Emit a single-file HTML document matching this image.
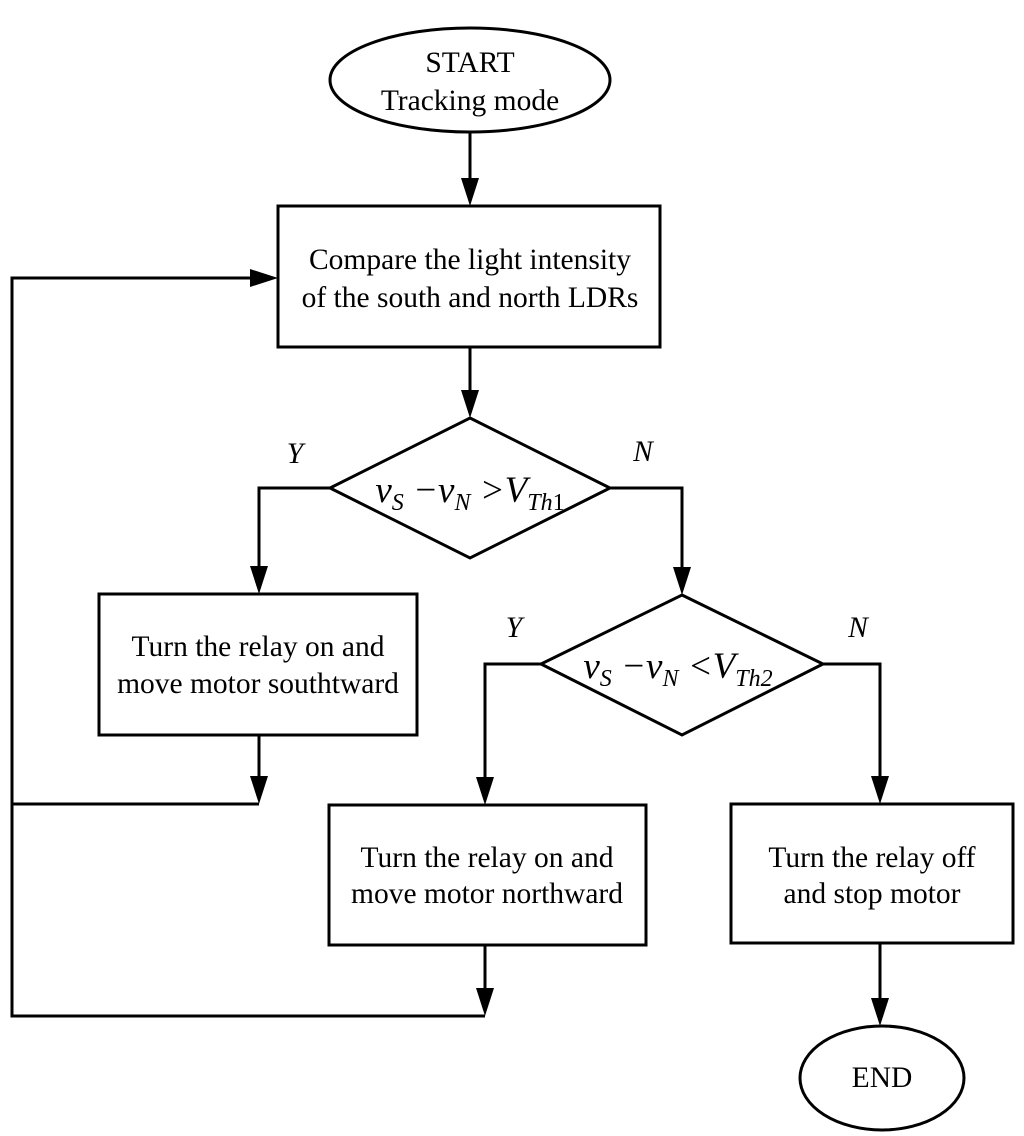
<!DOCTYPE html>
<html><head><meta charset="utf-8"><style>body{margin:0;background:#fff}svg{display:block}</style></head>
<body>
<svg width="1024" height="1136" viewBox="0 0 1024 1136" xmlns="http://www.w3.org/2000/svg" font-family="Liberation Serif, serif" font-size="29.5" fill="none" stroke="#000" stroke-width="3">
<ellipse cx="470" cy="80" rx="140" ry="52"/>
<rect x="278" y="206" width="382" height="141"/>
<polygon points="470,418 610,488 470,558 330,488"/>
<rect x="99" y="594" width="318" height="141"/>
<polygon points="682,595 823,664 682,735 541,664"/>
<rect x="329" y="805" width="317" height="140"/>
<rect x="731" y="804" width="282" height="139"/>
<ellipse cx="882" cy="1078" rx="82" ry="52"/>
<line x1="470" y1="132" x2="470" y2="180"/>
<line x1="470" y1="347" x2="470" y2="392"/>
<polyline points="330,488 259,488 259,568"/>
<polyline points="610,488 682,488 682,569"/>
<polyline points="541,664 485,664 485,779"/>
<polyline points="823,664 880,664 880,778"/>
<line x1="259" y1="735" x2="259" y2="780"/>
<line x1="485" y1="945" x2="485" y2="992"/>
<line x1="880" y1="943" x2="880" y2="1000"/>
<polyline points="259,804 12,804"/>
<polyline points="485,1016 12,1016 12,278 252,278"/>
<g fill="#000" stroke="none">
<polygon points="461,178 479,178 470,206"/>
<polygon points="461,390 479,390 470,418"/>
<polygon points="250,566 268,566 259,594"/>
<polygon points="673,567 691,567 682,595"/>
<polygon points="476,777 494,777 485,805"/>
<polygon points="871,776 889,776 880,804"/>
<polygon points="250,776 268,776 259,804"/>
<polygon points="476,988 494,988 485,1016"/>
<polygon points="871,998 889,998 880,1026"/>
<polygon points="250,269 250,287 278,278"/>
</g>
<g fill="#000" stroke="none" text-anchor="middle">
<text x="470" y="72">START</text><text x="470" y="110">Tracking mode</text>
<text x="470" y="269">Compare the light intensity</text><text x="470" y="307">of the south and north LDRs</text>
<text x="258" y="656">Turn the relay on and</text><text x="258" y="693">move motor southtward</text>
<text x="487" y="867">Turn the relay on and</text><text x="487" y="903">move motor northward</text>
<text x="872" y="867">Turn the relay off</text><text x="872" y="903">and stop motor</text>
<text x="882" y="1087">END</text>
<g font-style="italic">
<text x="295" y="463">Y</text><text x="643" y="461">N</text>
<text x="514" y="637">Y</text><text x="858" y="637">N</text>
</g>
<text x="470" y="502" font-size="37" font-style="italic" text-anchor="middle">v<tspan font-size="24" dy="8">S</tspan><tspan dy="-8"> −v</tspan><tspan font-size="24" dy="8">N</tspan><tspan dy="-8"> &gt;V</tspan><tspan font-size="24" dy="8">Th</tspan><tspan font-size="24" font-style="normal">1</tspan></text>
<text x="678" y="678" font-size="37" font-style="italic" text-anchor="middle">v<tspan font-size="24" dy="8">S</tspan><tspan dy="-8"> −v</tspan><tspan font-size="24" dy="8">N</tspan><tspan dy="-8"> &lt;V</tspan><tspan font-size="24" dy="8">Th2</tspan></text>
</g>
</svg>
</body></html>
